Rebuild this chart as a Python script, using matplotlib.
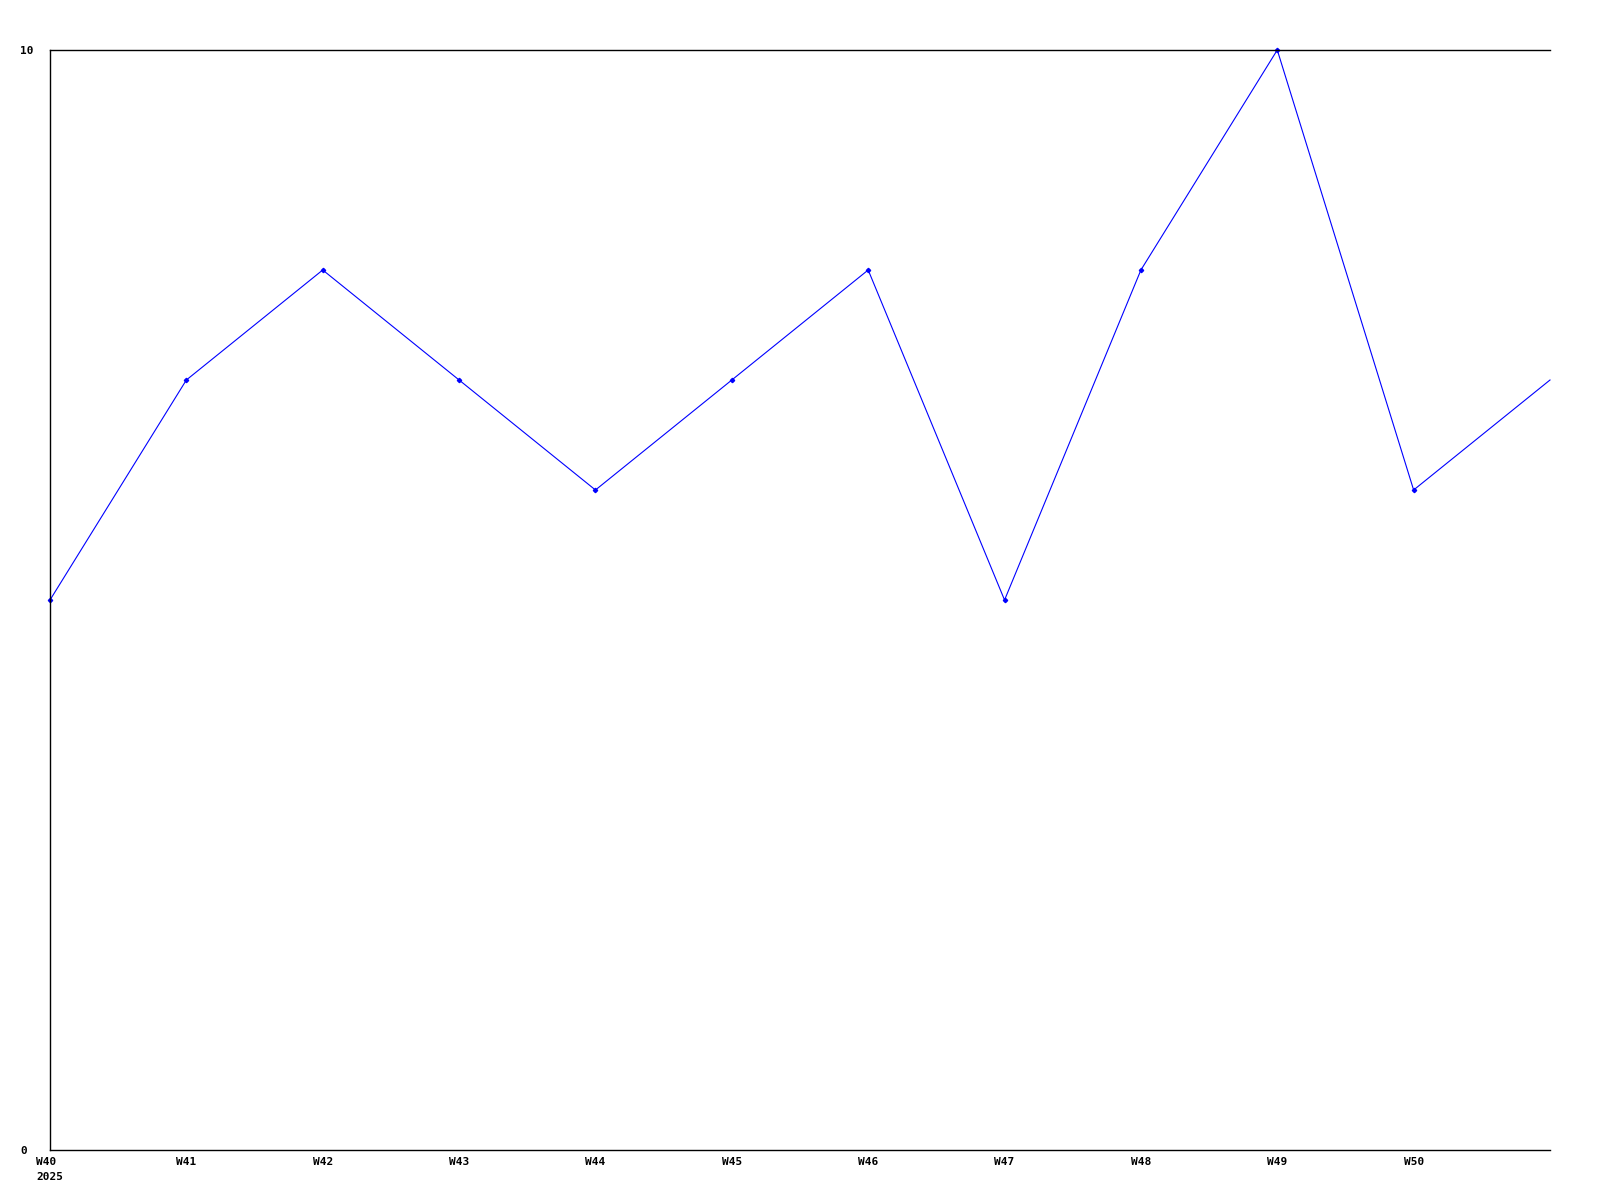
import matplotlib

matplotlib.use("Agg")
import matplotlib.pyplot as plt

weeks = [40, 41, 42, 43, 44, 45, 46, 47, 48, 49, 50, 51]
values = [5, 7, 8, 7, 6, 7, 8, 5, 8, 10, 6, 7]
tick_weeks = [40, 41, 42, 43, 44, 45, 46, 47, 48, 49, 50]
tick_labels = ["W40\n2025", "W41", "W42", "W43", "W44", "W45", "W46", "W47", "W48", "W49", "W50"]
y_ticks = [0, 10]

plt.rcParams["font.family"] = "DejaVu Sans Mono"
plt.rcParams["font.weight"] = "bold"
plt.rcParams["font.size"] = 8

fig = plt.figure(figsize=(16, 12), dpi=100)
ax = fig.add_axes([50 / 1600, 50 / 1200, 1500 / 1600, 1100 / 1200])
# last point sits on the right edge without a marker
ax.plot(weeks, values, color="#0000ff", linewidth=0.8, marker="D", markersize=2.2,
        markevery=slice(0, len(weeks) - 1), clip_on=False)
ax.set_xlim(40, 51)
ax.set_ylim(0, 10)
ax.set_xticks(tick_weeks)
ax.set_xticklabels(tick_labels, multialignment="left", linespacing=1.6)
ax.set_yticks(y_ticks)
ax.tick_params(length=0, pad=5)
ax.tick_params(axis="y", pad=21.5)
for lab in ax.get_yticklabels():
    lab.set_horizontalalignment("left")
ax.spines["right"].set_visible(False)
for s in ["left", "top", "bottom"]:
    ax.spines[s].set_linewidth(1)

fig.savefig("out.png", dpi=100)
